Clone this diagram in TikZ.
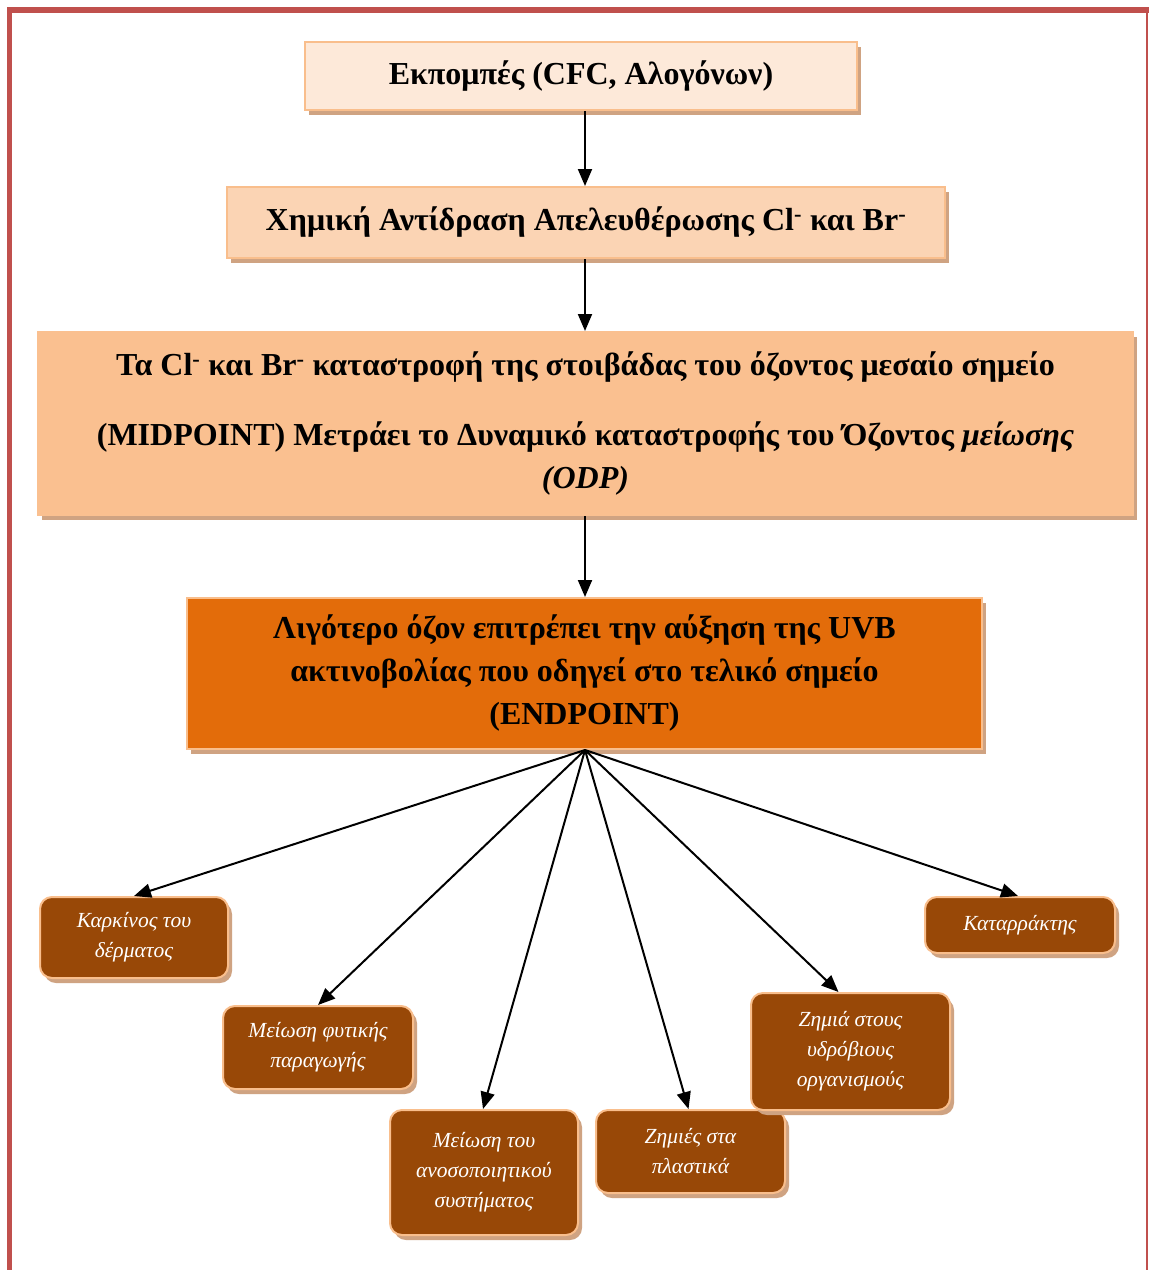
\documentclass[tikz,border=0pt]{standalone}
\usepackage{fontspec}
\setmainfont{Liberation Serif}
\usetikzlibrary{arrows.meta,shadows}
\definecolor{framered}{HTML}{C0504D}
\definecolor{fillA}{HTML}{FDE9D9}
\definecolor{fillB}{HTML}{FBD4B4}
\definecolor{fillC}{HTML}{FAC090}
\definecolor{fillD}{HTML}{E36C0A}
\definecolor{fillE}{HTML}{984807}
\definecolor{edgeO}{HTML}{F9BE8C}
\definecolor{shad}{HTML}{CFA382}
\tikzset{
  mainbox/.style={draw=edgeO, line width=2pt, align=center, inner sep=0pt,
    font=\fontsize{32}{43}\selectfont\bfseries,
    drop shadow={shadow xshift=4pt, shadow yshift=-5pt, fill=shad, opacity=1}},
  leafbox/.style={draw=edgeO, line width=2pt, fill=fillE, rounded corners=12pt,
    align=center, inner sep=0pt, text=white,
    font=\fontsize{21.5}{30}\selectfont\itshape,
    drop shadow={shadow xshift=4pt, shadow yshift=-5pt, fill=shad, opacity=1}},
  conn/.style={line width=2pt, -{Triangle[length=17pt,width=14pt]}}
}
\begin{document}
\begin{tikzpicture}[x=1pt,y=-1pt]
\useasboundingbox (0,0) rectangle (1149,1270);
\fill[white] (0,0) rectangle (1149,1270);
% frame
\fill[framered] (7,7) rectangle (1149,13);
\fill[framered] (7,7) rectangle (12,1270);
\fill[framered] (1145.5,7) rectangle (1148,1270);

\node[mainbox, fill=fillA, minimum width=552pt, minimum height=68pt] (b1) at (581,76)
  {Εκπομπές (CFC, Αλογόνων)};
\node[mainbox, fill=fillB, minimum width=718pt, minimum height=71pt] (b2) at (586,222.5)
  {Χημική Αντίδραση Απελευθέρωσης Cl\textsuperscript{-} και Br\textsuperscript{-}};
\node[mainbox, fill=fillC, draw=fillC, minimum width=1095pt, minimum height=183pt] (b3) at (585.5,423.5)
  {Τα Cl\textsuperscript{-} και Br\textsuperscript{-} καταστροφή της στοιβάδας του όζοντος μεσαίο σημείο\\[27pt]
   (MIDPOINT) Μετράει το Δυναμικό καταστροφής του Όζοντος \textit{μείωσης}\\
   \textit{(ODP)}};
\node[mainbox, fill=fillD, minimum width=795pt, minimum height=151pt] (b4) at (584.5,673.5)
  {Λιγότερο όζον επιτρέπει την αύξηση της UVB\\
   ακτινοβολίας που οδηγεί στο τελικό σημείο\\
   (ENDPOINT)};

\node[leafbox, minimum width=188pt, minimum height=81pt] (c1) at (134,937.5)
  {Καρκίνος του\\δέρματος};
\node[leafbox, minimum width=190pt, minimum height=83pt] (c2) at (318,1047.5)
  {Μείωση φυτικής\\παραγωγής};
\node[leafbox, minimum width=188pt, minimum height=125pt] (c3) at (484,1172.5)
  {Μείωση του\\ανοσοποιητικού\\συστήματος};
\node[leafbox, minimum width=189pt, minimum height=83pt] (c4) at (690.5,1151.5)
  {Ζημιές στα\\πλαστικά};
\node[leafbox, minimum width=199pt, minimum height=117pt] (c5) at (850.5,1051.5)
  {Ζημιά στους\\υδρόβιους\\οργανισμούς};
\node[leafbox, minimum width=190pt, minimum height=56pt] (c6) at (1020,925)
  {Καταρράκτης};

\coordinate (axis) at (585,0);
\draw[conn] (b1.south -| axis) -- (b2.north -| axis);
\draw[conn] (b2.south -| axis) -- (b3.north -| axis);
\draw[conn] (b3.south -| axis) -- (b4.north -| axis);
\coordinate (hub) at (b4.south -| axis);
\draw[conn] (hub) -- (c1.north);
\draw[conn] (hub) -- (c2.north);
\draw[conn] (hub) -- ([xshift=-1pt]c3.north);
\draw[conn] (hub) -- ([xshift=-2pt]c4.north);
\draw[conn] (hub) -- ([xshift=-12pt]c5.north);
\draw[conn] (hub) -- ([xshift=-2pt]c6.north);
\end{tikzpicture}
\end{document}
